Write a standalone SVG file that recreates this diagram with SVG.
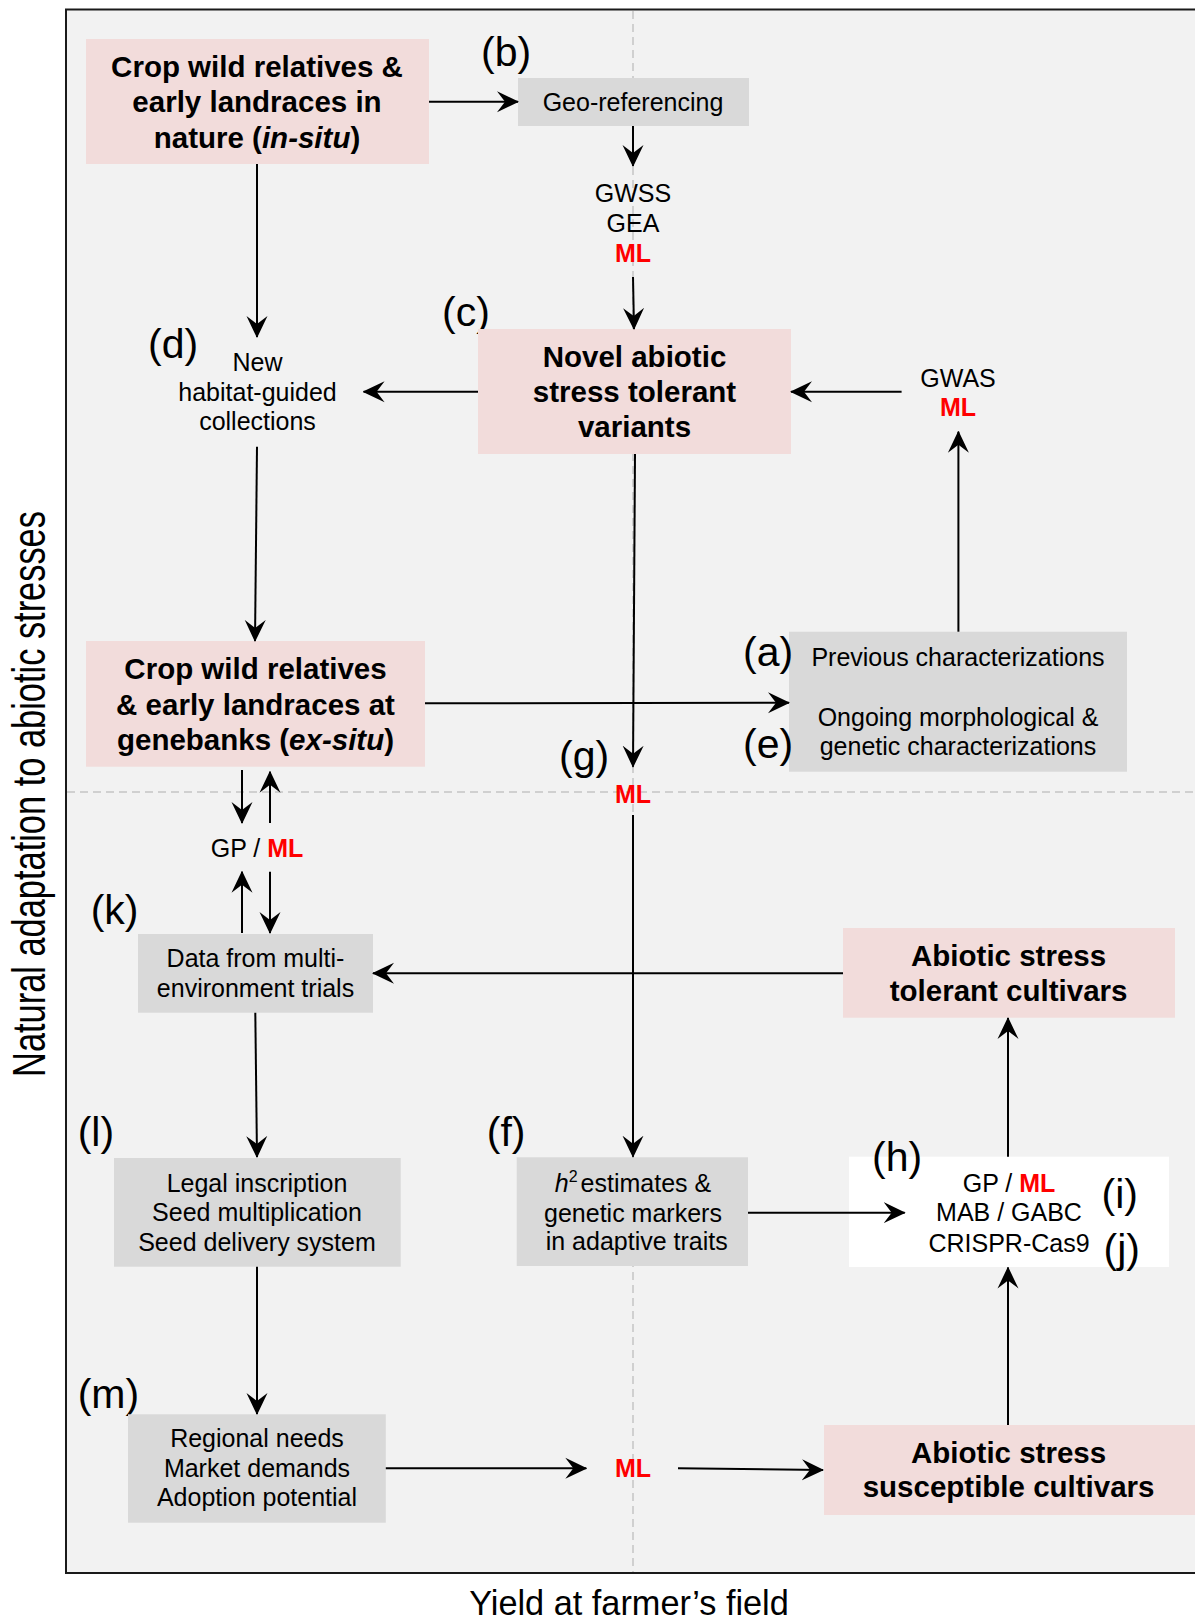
<svg xmlns="http://www.w3.org/2000/svg" width="1195" height="1619" viewBox="0 0 1195 1619">
<style>
text{font-family:"Liberation Sans",Arial,Helvetica,sans-serif;fill:#000}
.t{font-size:25px;text-anchor:middle}
.b{font-size:29.5px;font-weight:bold;text-anchor:middle}
.ml{font-weight:bold;fill:#ff0000}
.lab{font-size:41px}
.pink{fill:#f2dcdb}
.gray{fill:#d9d9d9}
.con line,.con path{stroke:#000;stroke-width:2;fill:none;marker-end:url(#ah)}
.dash{stroke:#d0d0d0;stroke-width:2;stroke-dasharray:8 5}
</style>
<defs>
<marker id="ah" markerUnits="userSpaceOnUse" markerWidth="22" markerHeight="22" viewBox="0 0 22 22" refX="21" refY="11" orient="auto">
<path d="M0,0.5 L22,11 L0,21.5 L8,11 Z" fill="#000"/>
</marker>
</defs>
<rect x="0" y="0" width="1195" height="1619" fill="#fff"/>
<rect id="frame" x="66" y="9.5" width="1140" height="1563.5" fill="#f2f2f2" stroke="#1a1a1a" stroke-width="2"/>
<line class="dash" x1="633" y1="11" x2="633" y2="1572"/>
<line class="dash" x1="67" y1="792" x2="1195" y2="792"/>

<g id="axis-y"><text transform="translate(45,794) rotate(-90) scale(0.732,1)" font-size="47" text-anchor="middle">Natural adaptation to abiotic stresses</text></g>
<g id="axis-x"><text x="629" y="1615" font-size="34.3" text-anchor="middle">Yield at farmer’s field</text></g>

<g id="n-crop-insitu">
<rect class="pink" x="86" y="39" width="343" height="125"/>
<text class="b" x="257" y="77">Crop wild relatives &amp;</text>
<text class="b" x="257" y="112">early landraces in</text>
<text class="b" x="257" y="147.5">nature (<tspan font-style="italic">in-situ</tspan>)</text>
</g>
<g id="n-geo">
<text class="lab" x="481" y="66.4">(b)</text>
<rect class="gray" x="518" y="78" width="231" height="48"/>
<text class="t" x="633" y="111">Geo-referencing</text>
</g>
<g id="n-gwss">
<text class="t" x="633" y="201.7">GWSS</text>
<text class="t" x="633" y="231.7">GEA</text>
<text class="t ml" x="633" y="261.7">ML</text>
</g>
<g id="n-novel">
<text class="lab" x="442" y="326.4">(c)</text>
<rect class="pink" x="478" y="329" width="313" height="125"/>
<text class="b" x="634.5" y="367">Novel abiotic</text>
<text class="b" x="634.5" y="402">stress tolerant</text>
<text class="b" x="634.5" y="437">variants</text>
</g>
<g id="n-new">
<text class="lab" x="148" y="358">(d)</text>
<text class="t" x="257.5" y="370.7">New</text>
<text class="t" x="257.5" y="400.7">habitat-guided</text>
<text class="t" x="257.5" y="430">collections</text>
</g>
<g id="n-gwas">
<text class="t" x="958" y="386.7">GWAS</text>
<text class="t ml" x="958" y="416">ML</text>
</g>
<g id="n-charact">
<rect class="gray" x="789" y="631.7" width="338" height="140"/>
<text class="lab" x="743" y="666.4">(a)</text>
<text class="lab" x="743" y="758.4">(e)</text>
<text class="t" x="958" y="666">Previous characterizations</text>
<text class="t" x="958" y="725.5">Ongoing morphological &amp;</text>
<text class="t" x="958" y="754.5">genetic characterizations</text>
</g>
<g id="n-crop-exsitu">
<rect class="pink" x="86" y="641" width="339" height="125.7"/>
<text class="b" x="255.5" y="679">Crop wild relatives</text>
<text class="b" x="255.5" y="715">&amp; early landraces at</text>
<text class="b" x="255.5" y="750">genebanks (<tspan font-style="italic">ex-situ</tspan>)</text>
</g>
<g id="n-ml-g">
<text class="lab" x="559" y="769.5">(g)</text>
<text class="t ml" x="633" y="802.7">ML</text>
</g>
<g id="n-gp-ml">
<text class="t" x="257" y="857">GP / <tspan class="ml">ML</tspan></text>
</g>
<g id="n-met">
<text class="lab" x="90.7" y="924.4">(k)</text>
<rect class="gray" x="138" y="934" width="235" height="78.7"/>
<text class="t" x="255.5" y="967">Data from multi-</text>
<text class="t" x="255.5" y="996.7">environment trials</text>
</g>
<g id="n-tolerant">
<rect class="pink" x="843" y="928" width="332" height="89.7"/>
<text class="b" x="1008.6" y="965.5">Abiotic stress</text>
<text class="b" x="1008.6" y="1000.5">tolerant cultivars</text>
</g>
<g id="n-legal">
<text class="lab" x="77.7" y="1146.4">(l)</text>
<rect class="gray" x="114" y="1158" width="286.7" height="108.7"/>
<text class="t" x="257" y="1191.7">Legal inscription</text>
<text class="t" x="257" y="1221">Seed multiplication</text>
<text class="t" x="257" y="1251">Seed delivery system</text>
</g>
<g id="n-h2">
<text class="lab" x="486.8" y="1146.4">(f)</text>
<rect class="gray" x="516.7" y="1157.3" width="231.3" height="108.7"/>
<text class="t" x="633" y="1191.7"><tspan font-style="italic">h</tspan><tspan font-size="16" dy="-10">2</tspan><tspan dy="10" dx="3">estimates &amp;</tspan></text>
<text class="t" x="633" y="1221.7">genetic markers</text>
<text class="t" x="636.7" y="1250">in adaptive traits</text>
</g>
<g id="n-breeding">
<rect x="849" y="1156.7" width="320" height="110.3" fill="#fff"/>
<text class="lab" x="872" y="1171.4">(h)</text>
<text class="lab" x="1101.6" y="1208.4">(i)</text>
<text class="lab" x="1103.5" y="1263">(j)</text>
<text class="t" x="1009" y="1191.7">GP / <tspan class="ml">ML</tspan></text>
<text class="t" x="1009" y="1221">MAB / GABC</text>
<text class="t" x="1009" y="1251.7">CRISPR-Cas9</text>
</g>
<g id="n-regional">
<text class="lab" x="77.7" y="1408">(m)</text>
<rect class="gray" x="128" y="1414.3" width="257.8" height="108.4"/>
<text class="t" x="257" y="1446.7">Regional needs</text>
<text class="t" x="257" y="1476.7">Market demands</text>
<text class="t" x="257" y="1506">Adoption potential</text>
</g>
<g id="n-ml-bottom">
<text class="t ml" x="633" y="1477.3">ML</text>
</g>
<g id="n-susceptible">
<rect class="pink" x="824" y="1425" width="371" height="90"/>
<text class="b" x="1008.6" y="1463.3">Abiotic stress</text>
<text class="b" x="1008.6" y="1496.7">susceptible cultivars</text>
</g>

<g id="connectors" class="con">
<line x1="429" y1="101.7" x2="518" y2="101.7"/>
<line x1="633" y1="126" x2="633" y2="166"/>
<line x1="633" y1="277" x2="634" y2="329"/>
<line x1="257" y1="164" x2="257" y2="337"/>
<line x1="478" y1="391.7" x2="363.6" y2="391.7"/>
<line x1="901.6" y1="391.7" x2="791" y2="391.7"/>
<line x1="958.4" y1="631.7" x2="958.4" y2="431.7"/>
<line x1="257" y1="446.7" x2="255" y2="641"/>
<line x1="425" y1="703.3" x2="789" y2="702.7"/>
<line x1="635" y1="454" x2="633" y2="766.7"/>
<line x1="242" y1="770" x2="242" y2="823"/>
<line x1="270" y1="823" x2="270" y2="771.7"/>
<line x1="242" y1="933" x2="242" y2="871.7"/>
<line x1="270" y1="871.7" x2="270" y2="933"/>
<line x1="843" y1="973.3" x2="373" y2="973.3"/>
<line x1="633" y1="815" x2="633" y2="1156.7"/>
<line x1="748" y1="1212.7" x2="904.7" y2="1212.7"/>
<line x1="1008" y1="1156.7" x2="1008" y2="1018"/>
<line x1="255.3" y1="1012.7" x2="257" y2="1157"/>
<line x1="257" y1="1266.7" x2="257" y2="1414"/>
<line x1="385.8" y1="1468.3" x2="586.3" y2="1468.3"/>
<line x1="678" y1="1468.3" x2="823" y2="1470"/>
<line x1="1008" y1="1425" x2="1008" y2="1267.5"/>
</g>
</svg>
